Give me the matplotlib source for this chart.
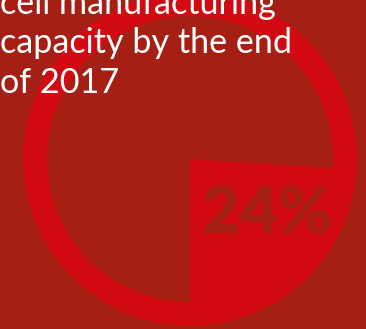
import matplotlib
matplotlib.use("Agg")
import matplotlib.pyplot as plt

# Share of capacity highlighted in the dial
share = [24, 76]
headline = ["cell manufacturing", "capacity by the end", "of 2017"]

BG = "#a51f15"
RED = "#d20a12"

W, H = 366, 329
fig = plt.figure(figsize=(W / 100, H / 100), dpi=100, facecolor=BG)
ax = fig.add_axes([0, 0, 1, 1])
ax.set_facecolor(BG)

cx, cy = 190, H - 159

# outer ring
ax.pie([100], radius=167, center=(cx, cy), colors=[RED],
       wedgeprops=dict(width=24, linewidth=0), startangle=90)
# filled share wedge
ax.pie(share, radius=144, center=(cx, cy), colors=[RED, "none"],
       startangle=-90, counterclock=True, wedgeprops=dict(linewidth=0))

ax.set_xlim(0, W)
ax.set_ylim(0, H)
ax.set_aspect("equal")
ax.axis("off")

baselines = [14, 53, 93]
for line, yb in zip(headline, baselines):
    ax.text(0, H - yb, line, color="white", fontsize=24.6, family="Lato",
            fontweight="normal", ha="left", va="baseline")

ax.text(267, H - 234, f"{share[0]}%", color=BG, fontsize=47, family="Lato",
        fontweight="heavy", ha="center", va="baseline")

fig.savefig("out.png", dpi=100, facecolor=BG)
